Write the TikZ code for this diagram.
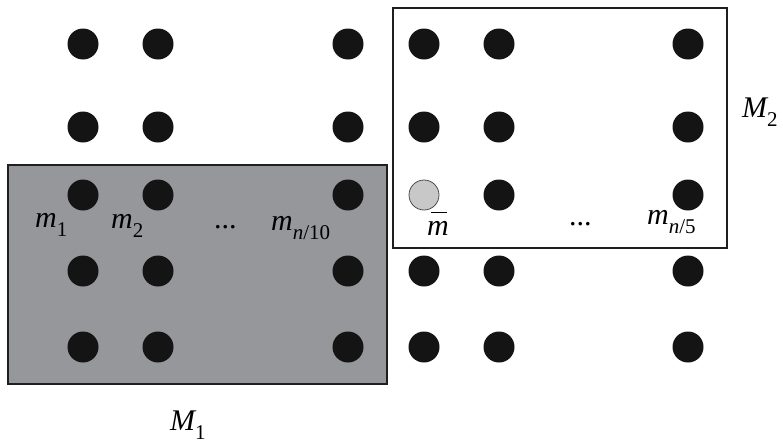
\documentclass[tikz,border=0pt]{standalone}
\usepackage{fontspec}
\setmainfont{Liberation Serif}
\definecolor{shade}{RGB}{150,151,155}
\definecolor{pale}{RGB}{200,200,200}
% subscript set smaller and lowered
\newcommand\lowsub[1]{\raisebox{-9pt}{\fontsize{21}{23}\selectfont #1}}
\begin{document}
\begin{tikzpicture}[x=1pt,y=-1pt,
  dot/.style={circle,fill=black!92,inner sep=0pt,minimum size=31pt},
  hollow/.style={circle,draw=black!70,line width=0.8pt,fill=pale,inner sep=0pt,minimum size=30pt},
  frame/.style={draw=black!88,line width=2pt},
  lbl/.style={inner sep=0pt,anchor=base west,font=\fontsize{30}{32}\selectfont\itshape}]
\useasboundingbox (0,0) rectangle (783,442);

% the two groups
\draw[frame,fill=shade] (8,165) rectangle (387,384);
\node[frame,draw,inner sep=0pt,minimum width=334pt,minimum height=240pt] (grp2) at (560,128) {};

% grid of points
\foreach \x [count=\c] in {83,158,348,424,499,688}{
  \foreach \y [count=\r] in {44,127,195,271,347}{
    \ifnum\c=4 \ifnum\r=3 \else
      \node[dot] (d-\r-\c) at (\x,\y) {};
    \fi\else
      \node[dot] (d-\r-\c) at (\x,\y) {};
    \fi
  }
}
\node[hollow] (d-3-4) at (424,195) {};

% labels
\node[lbl] (m1) at (35,227) {m\lowsub{\upshape 1}};
\node[lbl] (m2) at (111,228) {m\lowsub{\upshape 2}};
\node[lbl,font=\fontsize{30}{32}\selectfont] (dl) at (214,228) {...};
\node[lbl] (mn10) at (271,230) {m\lowsub{n\upshape/10}};
\node[lbl] (mbar) at (427,235) {m};
\draw[line width=1pt] ([xshift=4pt,yshift=8pt]mbar.north west) -- ([xshift=-2pt,yshift=8pt]mbar.north east);
\node[lbl,font=\fontsize{30}{32}\selectfont] (dr) at (569,225) {...};
\node[lbl] (mn5) at (647,224) {m\lowsub{n\upshape/5}};
\node[lbl] (M2) at (742,117) {M\lowsub{\upshape 2}};
\node[lbl] (M1) at (170,430) {M\lowsub{\upshape 1}};
\end{tikzpicture}
\end{document}
